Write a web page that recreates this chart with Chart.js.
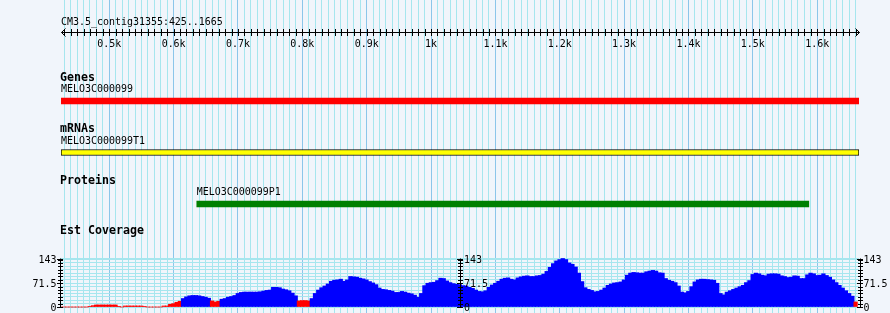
<!DOCTYPE html>
<html>
<head>
<meta charset="utf-8">
<style>
  html, body { margin: 0; padding: 0; background: #f1f5fb; }
  canvas { display: block; }
</style>
<script src="https://cdn.jsdelivr.net/npm/chart.js@4/dist/chart.umd.min.js"></script>
</head>
<body>
<canvas id="c" width="890" height="313"></canvas>
<script>
// ---------------- data ----------------
const TITLE = 'CM3.5_contig31355:425..1665';
const START = 425;
const END = 1665;

const RULER_TICKS  = [500, 600, 700, 800, 900, 1000, 1100, 1200, 1300, 1400, 1500, 1600];
const RULER_LABELS = ['0.5k', '0.6k', '0.7k', '0.8k', '0.9k', '1k', '1.1k', '1.2k', '1.3k', '1.4k', '1.5k', '1.6k'];

const TRACKS        = ['Genes', 'mRNAs', 'Proteins'];
const FEATURE_NAMES = ['MELO3C000099', 'MELO3C000099T1', 'MELO3C000099P1'];
const FEATURE_START = [425, 425, 636];
const FEATURE_END   = [1665, 1665, 1587];

const COV_TRACK = 'Est Coverage';
const COV_STEP = 5;            // bp per coverage bin, bins start at START
const COV_VALUES = [
  0, 0, 0, 0, 0, 0, 0, 0, 0, 2,
  4, 6, 6, 6, 6, 6, 6, 6, 2, 0,
  3, 3, 3, 3, 3, 3, 1, 0, 0, 0,
  0, 0, 3, 3, 8, 10, 14, 17, 25, 30,
  33, 34, 34, 33, 31, 29, 26, 18, 15, 17,
  23, 25, 29, 31, 34, 40, 43, 44, 44, 44,
  44, 44, 45, 47, 49, 50, 58, 58, 57, 53,
  51, 48, 41, 33, 18, 19, 19, 18, 25, 40,
  50, 57, 62, 68, 76, 79, 80, 82, 76, 80,
  90, 89, 88, 85, 83, 80, 75, 71, 66, 56,
  52, 51, 49, 47, 43, 43, 46, 44, 41, 39,
  35, 29, 40, 63, 70, 72, 73, 78, 85, 84,
  77, 72, 69, 67, 66, 63, 62, 58, 55, 50,
  46, 45, 48, 58, 65, 70, 76, 82, 85, 86,
  82, 80, 86, 89, 91, 92, 90, 90, 92, 93,
  97, 105, 117, 128, 136, 140, 143, 140, 130, 126,
  118, 100, 75, 57, 52, 49, 45, 46, 50, 56,
  64, 68, 71, 72, 74, 80, 94, 100, 102, 101,
  100, 100, 104, 106, 108, 106, 101, 100, 84, 79,
  76, 72, 62, 44, 42, 46, 60, 74, 80, 82,
  82, 81, 80, 79, 70, 40, 36, 44, 48, 52,
  56, 60, 64, 72, 78, 96, 100, 98, 94, 92,
  97, 98, 98, 97, 92, 90, 87, 88, 92, 91,
  84, 84, 95, 100, 98, 93, 94, 98, 93, 88,
  80, 72, 64, 56, 48, 40, 32, 15
];
const COV_MAX = 143;
const COV_PIVOT = 21;          // bins below this are drawn in the low colour
const COV_TICK_VALUES = [0, 71.5, 143];
const COV_TICK_LABELS = ['0', '71.5', '143'];

// ---------------- styles / layout ----------------
const BG = '#f1f5fb';
const GRID_MINOR = '#a6e6ee';
const GRID_MAJOR = '#8cc6ea';
const FEATURE_FILL   = ['#ff0000', '#ffff00', '#008000'];
const FEATURE_BORDER = ['#ff0000', '#000000', '#008000'];
const FEATURE_BW     = [0, 1, 0];
const COV_HIGH = '#0000ff';
const COV_LOW  = '#ff0000';
// monospace fonts, squeezed horizontally to the 6px / 7px cell widths of the original
const FONT_SMALL = { css: '11px "DejaVu Sans Mono", monospace', sx: 0.905 };
const FONT_BOLD  = { css: 'bold 12.5px "DejaVu Sans Mono", monospace', sx: 0.93 };

const H = 313;
const COV_BASE_PX = 307, COV_TOP_PX = 258.5;
const covK = (COV_BASE_PX - COV_TOP_PX) / COV_MAX;
const covMin = -(H - COV_BASE_PX) / covK;
const covMax = covMin + H / covK;

const TRACK1_PX = 98, TRACK_GAP_PX = 51.5;
const trackMin = 1 - TRACK1_PX / TRACK_GAP_PX;
const trackMax = trackMin + H / TRACK_GAP_PX;

// grid values
const X_GRID = [];
for (let v = Math.ceil((START + 1) / 10) * 10; v < END; v += 10) X_GRID.push(v);
const COV_GRID = [];
for (let v = 0; v < COV_MAX; v += 10) COV_GRID.push(v);
COV_GRID.push(COV_MAX);

// ---------------- datasets ----------------
const covData = COV_VALUES.map((v, i) => ({ x: START + i * COV_STEP + COV_STEP / 2, y: v }));
const featData = TRACKS.map((t, i) => ({ x: [FEATURE_START[i], FEATURE_END[i]], y: i + 1 }));

function text(c, font, str, x, y, align) {
  c.save();
  c.font = font.css;
  c.textAlign = align || 'left';
  c.textBaseline = 'alphabetic';
  c.scale(font.sx, 1);
  c.fillText(str, x / font.sx, y);
  c.restore();
}

const decor = {
  id: 'decor',
  beforeDraw(chart) {
    const c = chart.ctx;
    c.save();
    c.fillStyle = BG;
    c.fillRect(0, 0, chart.width, chart.height);
    c.restore();
  },
  afterDatasetsDraw(chart) {
    const c = chart.ctx;
    const xs = chart.scales.x, yc = chart.scales.yCov, yt = chart.scales.yTrack;
    c.save();
    c.fillStyle = '#000';
    c.strokeStyle = '#000';
    c.lineWidth = 1;

    // title
    text(c, FONT_SMALL, TITLE, xs.getPixelForValue(START), 25);

    // ruler
    const ry = 32.5;
    const xa = Math.round(xs.getPixelForValue(START)) + 0.5;
    const xb = Math.round(xs.getPixelForValue(END)) + 0.5;
    c.beginPath();
    c.moveTo(xa, ry); c.lineTo(xb, ry);
    c.moveTo(xa + 4, ry - 4); c.lineTo(xa, ry); c.lineTo(xa + 4, ry + 4);
    c.moveTo(xb - 4, ry - 4); c.lineTo(xb, ry); c.lineTo(xb - 4, ry + 4);
    X_GRID.forEach(v => {
      const px = Math.round(xs.getPixelForValue(v)) + 0.5;
      c.moveTo(px, ry - 3.5); c.lineTo(px, ry + 3.5);
    });
    c.stroke();
    RULER_TICKS.forEach((v, i) => text(c, FONT_SMALL, RULER_LABELS[i], xs.getPixelForValue(v), 47, 'center'));

    // track labels and feature names
    const lx = xs.getPixelForValue(START) - 1;
    TRACKS.forEach((t, i) => {
      const cy = yt.getPixelForValue(i + 1);
      text(c, FONT_BOLD, t, lx, cy - 17.2);
      text(c, FONT_SMALL, FEATURE_NAMES[i], xs.getPixelForValue(FEATURE_START[i]), cy - 5.8);
    });
    const covTop = yc.getPixelForValue(COV_MAX);
    const covBase = yc.getPixelForValue(0);
    text(c, FONT_BOLD, COV_TRACK, lx, covTop - 25);

    // coverage axes (left, middle, right)
    const area = chart.chartArea;
    const axesX = [Math.round(area.left) - 0.5, Math.round((area.left + area.right) / 2) + 0.5, Math.round(area.right) + 1.5];
    c.beginPath();
    axesX.forEach(ax => {
      c.moveTo(ax, Math.round(covTop) - 0.5); c.lineTo(ax, Math.round(covBase) + 0.5);
      COV_GRID.forEach(v => {
        const py = Math.round(yc.getPixelForValue(v)) + 0.5;
        c.moveTo(ax - 2.5, py); c.lineTo(ax + 2.5, py);
      });
      COV_TICK_VALUES.forEach(v => {
        const py = Math.round(yc.getPixelForValue(v)) + 0.5;
        c.moveTo(ax - 3.5, py); c.lineTo(ax + 2.5, py);
      });
    });
    c.stroke();
    COV_TICK_VALUES.forEach((v, i) => {
      const py = yc.getPixelForValue(v) + 4;
      text(c, FONT_SMALL, COV_TICK_LABELS[i], axesX[0] - 4, py, 'right');
      text(c, FONT_SMALL, COV_TICK_LABELS[i], axesX[1] + 3.5, py, 'left');
      text(c, FONT_SMALL, COV_TICK_LABELS[i], axesX[2] + 3, py, 'left');
    });
    c.restore();
  }
};

new Chart(document.getElementById('c'), {
  type: 'bar',
  data: {
    datasets: [
      {
        label: COV_TRACK,
        data: covData,
        xAxisID: 'x',
        yAxisID: 'yCov',
        backgroundColor: ctx => (ctx.parsed && ctx.parsed.y < COV_PIVOT) ? COV_LOW : COV_HIGH,
        borderWidth: 0,
        barThickness: 3.6,
        order: 2
      },
      {
        label: 'features',
        indexAxis: 'y',
        data: featData,
        xAxisID: 'xf',
        yAxisID: 'yTrack',
        backgroundColor: FEATURE_FILL,
        borderColor: FEATURE_BORDER,
        borderWidth: FEATURE_BW,
        borderSkipped: false,
        barThickness: 6,
        order: 1
      }
    ]
  },
  options: {
    responsive: false,
    animation: false,
    events: [],
    devicePixelRatio: 1,
    layout: { padding: { left: 61, right: 31, top: 0, bottom: 0 } },
    plugins: { legend: { display: false }, tooltip: { enabled: false }, title: { display: false } },
    scales: {
      x: {
        type: 'linear', min: START, max: END, position: 'bottom', offset: false,
        afterBuildTicks: s => { s.ticks = X_GRID.map(v => ({ value: v })); },
        ticks: { display: false },
        grid: {
          offset: false, drawTicks: false, lineWidth: 1,
          color: ctx => (ctx.tick && Math.abs(ctx.tick.value % 100) < 1e-6) ? GRID_MAJOR : GRID_MINOR
        },
        border: { display: false }
      },
      xf: { type: 'linear', min: START, max: END, display: false, offset: false, grid: { offset: false } },
      yCov: {
        type: 'linear', min: covMin, max: covMax, position: 'left', offset: false,
        afterBuildTicks: s => { s.ticks = COV_GRID.map(v => ({ value: v })); },
        ticks: { display: false },
        grid: { offset: false, drawTicks: false, color: GRID_MINOR, lineWidth: 1 },
        border: { display: false }
      },
      yTrack: { type: 'linear', min: trackMin, max: trackMax, reverse: true, display: false, offset: false, grid: { offset: false } }
    }
  },
  plugins: [decor]
});
</script>
</body>
</html>
